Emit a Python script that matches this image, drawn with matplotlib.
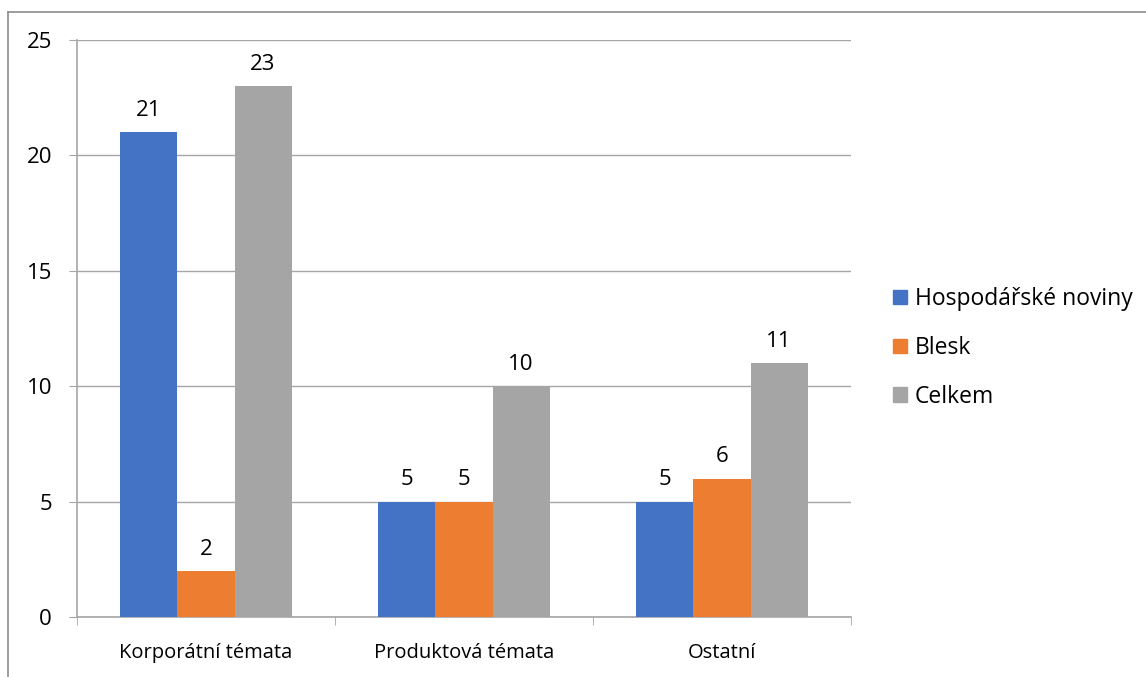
import matplotlib.pyplot as plt
import numpy as np
from matplotlib.lines import Line2D

plt.rcParams['font.family'] = ['Open Sans', 'DejaVu Sans']

categories = ["Korporátní témata", "Produktová témata", "Ostatní"]
series_names = ["Hospodářské noviny", "Blesk", "Celkem"]
hn = [21, 5, 5]
blesk = [2, 5, 6]
celkem = [23, 10, 11]
y_ticks = [0, 5, 10, 15, 20, 25]

colors = ["#4472C4", "#ED7D31", "#A5A5A5"]
values = [hn, blesk, celkem]

FS_CAT = 14.5
FS_NUM = 16

fig = plt.figure(figsize=(11.46, 6.77), dpi=100)
ax = fig.add_axes([77 / 1146, 1 - 617 / 677, (851 - 77) / 1146, (617 - 40) / 677])

x = np.arange(len(categories))
width = 0.221
for i, (vals, col, name) in enumerate(zip(values, colors, series_names)):
    pos = x + (i - 1) * width
    bars = ax.bar(pos, vals, width=width, color=col, label=name, zorder=3)
    for b, v in zip(bars, vals):
        ax.annotate(str(v), (b.get_x() + b.get_width() / 2, v),
                    xytext=(0, 8), textcoords="offset points",
                    ha="center", va="bottom", fontsize=FS_NUM, color="#000000")

ax.set_xlim(-0.5, len(categories) - 0.5)
ax.set_ylim(0, 25)
ax.set_yticks(y_ticks)
ax.set_yticklabels([str(t) for t in y_ticks], fontsize=FS_NUM)
ax.yaxis.grid(True, color="#a6a6a6", linewidth=1, zorder=0)

ax.set_xticks(x)
ax.set_xticklabels(categories, fontsize=FS_CAT)
ax.tick_params(axis="x", length=0, pad=19)
ax.tick_params(axis="y", length=6, color="#a6a6a6", pad=12)
# category boundary ticks on the x axis
ax.set_xticks(np.arange(len(categories) + 1) - 0.5, minor=True)
ax.tick_params(axis="x", which="minor", length=6, color="#a6a6a6")

for s in ["top", "right"]:
    ax.spines[s].set_visible(False)
for s in ["left", "bottom"]:
    ax.spines[s].set_color("#a6a6a6")
    ax.spines[s].set_linewidth(1.2)

handles = [plt.Rectangle((0, 0), 1, 1, color=c) for c in colors]
fig.legend(handles, series_names, loc="center left",
           bbox_to_anchor=(893 / 1146, 1 - 348 / 677), frameon=False,
           borderpad=0, borderaxespad=0,
           fontsize=16.5, handlelength=0.6, handleheight=0.6,
           handletextpad=0.35, labelspacing=1.08)

# outer chart frame (top and left edges)
fig.add_artist(Line2D([8 / 1146, 1.0], [1 - 11.5 / 677, 1 - 11.5 / 677],
                      transform=fig.transFigure, color="#8c8c8c", linewidth=1.2))
fig.add_artist(Line2D([8 / 1146, 8 / 1146], [0, 1 - 11.5 / 677],
                      transform=fig.transFigure, color="#8c8c8c", linewidth=1.2))

fig.savefig("out.png", dpi=100)
